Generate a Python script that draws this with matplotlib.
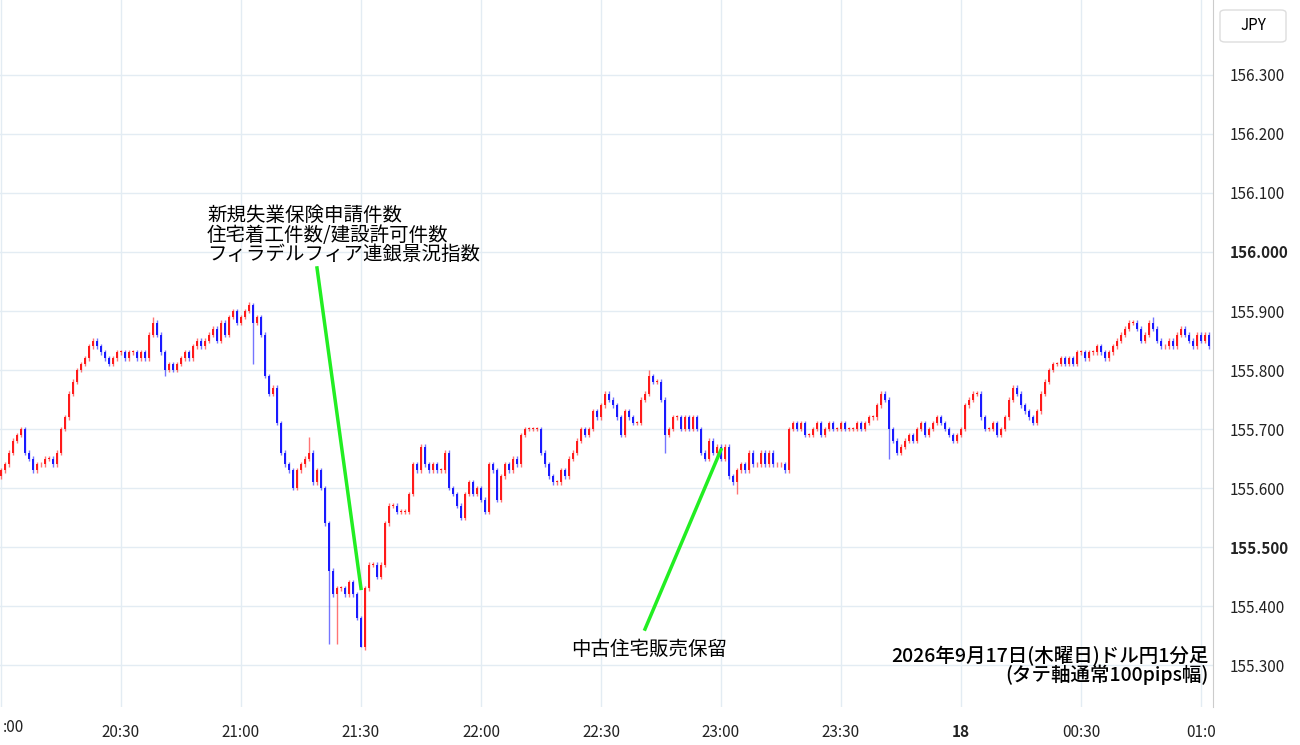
import numpy as np
import matplotlib
matplotlib.use("Agg")
import matplotlib.pyplot as plt
from matplotlib.patches import FancyBboxPatch

plt.rcParams["font.family"] = ["Noto Sans CJK JP", "DejaVu Sans"]

# closes per minute from 20:00, in pips (0.01 yen) above 155.00
CLOSES = [
    63, 64, 66, 68, 69, 70, 66, 65, 63, 64,
    64, 65, 65, 64, 66, 70, 72, 76, 78, 80,
    81, 82, 84, 85, 84, 83, 82, 81, 82, 83,
    83, 82, 83, 83, 82, 83, 82, 86, 88, 86,
    83, 80, 81, 80, 81, 82, 83, 82, 84, 85,
    84, 85, 86, 87, 85, 88, 86, 89, 90, 88,
    89, 90, 91, 88, 89, 86, 79, 76, 77, 71,
    66, 64, 63, 60, 63, 64, 65, 66, 61, 63,
    60, 54, 46, 42, 43, 43, 42, 44, 42, 38,
    33, 43, 47, 47, 45, 47, 54, 57, 57, 56,
    56, 56, 59, 64, 63, 67, 64, 63, 64, 63,
    63, 66, 60, 59, 57, 55, 59, 61, 59, 60,
    58, 56, 64, 63, 58, 62, 64, 63, 65, 64,
    69, 70, 70, 70, 70, 66, 64, 62, 61, 61,
    63, 62, 65, 66, 68, 70, 69, 70, 73, 72,
    74, 76, 75, 74, 72, 69, 73, 72, 71, 71,
    75, 76, 79, 78, 78, 75, 69, 70, 72, 72,
    70, 72, 70, 72, 70, 66, 65, 68, 66, 67,
    65, 67, 62, 61, 63, 64, 63, 66, 64, 64,
    66, 64, 66, 64, 64, 64, 63, 70, 71, 70,
    71, 69, 69, 70, 71, 69, 70, 71, 70, 70,
    71, 70, 70, 70, 71, 70, 71, 72, 72, 74,
    76, 75, 70, 68, 66, 67, 68, 69, 68, 70,
    71, 69, 70, 71, 72, 71, 70, 69, 68, 69,
    70, 74, 75, 76, 76, 72, 70, 70, 71, 69,
    70, 72, 75, 77, 76, 74, 73, 72, 71, 73,
    76, 78, 80, 81, 81, 82, 81, 82, 81, 83,
    83, 82, 83, 83, 84, 83, 82, 83, 84, 85,
    86, 87, 88, 88, 87, 85, 86, 88, 87, 85,
    84, 84, 85, 84, 86, 87, 86, 85, 84, 86,
    85, 86, 84,
]
FIRST_OPEN = 62
# notable wick extremes in pips: minute -> (high, low)
WICKS = {
    38: (89, None), 41: (None, 79), 62: (91.5, None), 63: (None, 81),
    77: (68.6, None), 82: (None, 33.5), 84: (None, 33.5), 90: (None, 33),
    162: (80, None), 166: (None, 66), 184: (None, 59), 222: (None, 65),
    288: (89, None),
}

XTICKS = [30, 60, 90, 120, 150, 180, 210, 240, 270, 300]
XLABELS = ["20:30", "21:00", "21:30", "22:00", "22:30", "23:00", "23:30", "18", "00:30", "01:0"]
YTICKS = [155.3, 155.4, 155.5, 155.6, 155.7, 155.8, 155.9, 156.0, 156.1, 156.2, 156.3]

closes = 155 + np.array(CLOSES, dtype=float) / 100
opens = np.concatenate([[155 + FIRST_OPEN / 100], closes[:-1]])
highs = np.maximum(opens, closes) + 0.004
lows = np.minimum(opens, closes) - 0.004
for i, (h, l) in WICKS.items():
    if h is not None:
        highs[i] = 155 + h / 100
    if l is not None:
        lows[i] = 155 + l / 100
t = np.arange(len(closes), dtype=float)
up = closes >= opens
colors = ["#ff1a1a" if u else "#1a1aff" for u in up]
body_lo = np.minimum(opens, closes)
body_h = np.maximum(np.abs(closes - opens), 0.0015)

fig = plt.figure(figsize=(13, 7.45), dpi=100)
ax = fig.add_axes([0, 38 / 745, 1213 / 1300, 707 / 745])

for x in [0] + XTICKS:
    ax.axvline(x, color="#e3ecf3", lw=1, zorder=0)
for y in YTICKS:
    ax.axhline(y, color="#e3ecf3", lw=1, zorder=0)

ax.vlines(t, lows, highs, colors=colors, lw=1, alpha=0.6, zorder=3)
ax.bar(t, body_h, bottom=body_lo, width=0.7, color=colors, lw=0, zorder=4)

ax.set_xlim(-0.25, 303)
ax.set_ylim(155.229, 156.427)

ax.set_xticks(XTICKS)
ax.set_xticklabels(XLABELS)
for lab in ax.get_xticklabels():
    if lab.get_text() == "18":
        lab.set_fontweight("bold")
ax.yaxis.tick_right()
ax.set_yticks(YTICKS)
ax.set_yticklabels([f"{v:.3f}" for v in YTICKS])
for lab in ax.get_yticklabels():
    if lab.get_text() in ("156.000", "155.500"):
        lab.set_fontweight("bold")
ax.tick_params(length=0, labelsize=11, colors="#222222", pad=12)
ax.tick_params(axis="x", pad=12)
fig.text(0.002, 1 - 727 / 745, ":00", fontsize=11, color="#222222", va="center")
for s in ["left", "top", "bottom"]:
    ax.spines[s].set_visible(False)
ax.spines["right"].set_color("#cccccc")

# annotations
ax.plot([79, 90], [155.973, 155.43], color="#22ee22", lw=2.5, zorder=5)
ax.text(51.5, 156.08, "新規失業保険申請件数\n住宅着工件数/建設許可件数\nフィラデルフィア連銀景況指数",
        fontsize=14, va="top", ha="left", linespacing=0.92)
ax.plot([161, 180], [155.361, 155.665], color="#22ee22", lw=2.5, zorder=5)
ax.text(162, 155.345, "中古住宅販売保留", fontsize=14, va="top", ha="center")
ax.text(302, 155.3, "2026年9月17日(木曜日)ドル円1分足\n(タテ軸通常100pips幅)",
        fontsize=14, ha="right", va="center", linespacing=0.92, fontweight="medium")

box = FancyBboxPatch((1220 / 1300, 1 - 42 / 745), 66 / 1300, 32 / 745,
                     boxstyle="round,pad=0,rounding_size=0.004",
                     transform=fig.transFigure, fc="white", ec="#dddddd", lw=1)
fig.patches.append(box)
fig.text(1253 / 1300, 1 - 26 / 745, "JPY", ha="center", va="center", fontsize=11)

fig.savefig("out.png", dpi=100)
